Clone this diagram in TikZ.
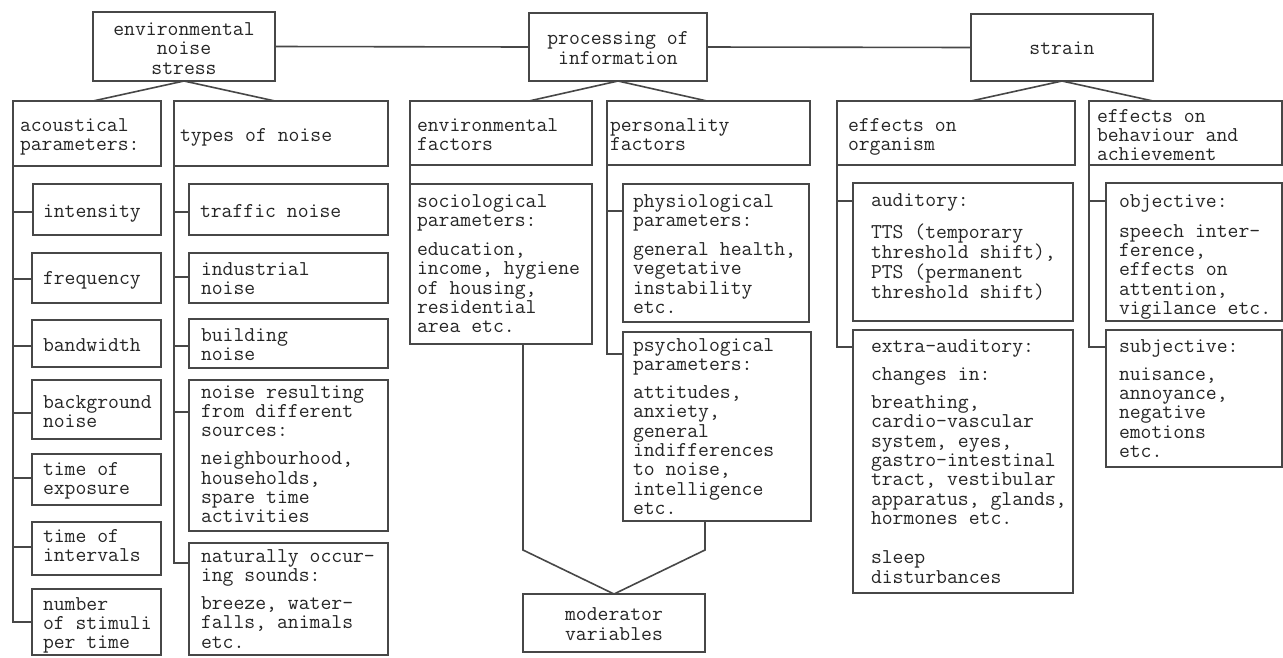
\documentclass[tikz,border=0pt]{standalone}
\usepackage{fontspec}
\usetikzlibrary{calc}
\newcommand\fsz{\ttfamily\fontsize{21.1}{19.3}\selectfont}
\tikzset{
  ln/.style={draw=black!72, line width=1.6pt},
  boxstyle/.style={ln, rectangle, inner sep=0pt, outer sep=0pt, fill=white},
  txtstyle/.style={inner sep=0pt, outer sep=0pt, anchor=north west, align=left, text=black!85, font=\fsz},
  ctxstyle/.style={inner sep=0pt, outer sep=0pt, align=center, text=black!85, font=\fsz},
}
\newcommand\mybox[5]{\node[boxstyle, anchor=north west, minimum width={(#4-#2)*1pt}, minimum height={(#5-#3)*1pt}] (#1) at (#2,#3) {};}
\newcommand\mytext[4]{\node[txtstyle] (#1t) at (#2,#3-10) {\rule{0pt}{15pt}#4};}
\newcommand\stub[3]{\draw[ln] (#1.south west) |- ($(#2.north west)+(0,#3)$);}
\begin{document}
\begin{tikzpicture}[x=1pt,y=-1pt]
\fill[white] (0,0) rectangle (1283,657);
\useasboundingbox (0,0) rectangle (1283,657);
% top row
\mybox{env}{93}{12}{275}{81}
\mybox{proc}{529}{13}{707}{81}
\mybox{strain}{971}{14}{1153}{81}
\node[ctxstyle] (envt) at ($(env.center)+(0,2)$) {environmental\\noise\\stress};
\node[ctxstyle] (proct) at ($(proc.center)+(0,1)$) {processing of\\information};
\node[ctxstyle] (straint) at ($(strain.center)+(0,1)$) {strain};
\draw[ln] (env.east) -- (proc.west);
\draw[ln] (proc.east) -- (strain.west);
% second row
\mybox{acou}{13}{101}{161}{166}
\mybox{types}{174}{101}{388}{166}
\mybox{envf}{410}{101}{592}{165}
\mybox{pers}{607}{101}{810}{165}
\mybox{org}{837}{101}{1075}{165}
\mybox{beh}{1089}{101}{1282}{165}
\mytext{acou}{20}{126}{acoustical\\parameters:}
\mytext{types}{180}{136}{types of noise}
\mytext{envf}{417}{126}{environmental\\factors}
\mytext{pers}{610}{126}{personality\\factors}
\mytext{org}{848}{126}{effects on\\organism}
\mytext{beh}{1097}{117}{effects on\\behaviour and\\achievement}
\draw[ln] (env.south) -- (env.south west |- acou.north);
\draw[ln] (env.south) -- (env.south east |- types.north);
\draw[ln] (proc.south) -- (proc.south west |- envf.north);
\draw[ln] (proc.south) -- (proc.south east |- pers.north);
\draw[ln] (strain.south) -- (strain.south west |- org.north);
\draw[ln] (strain.south) -- (strain.south east |- beh.north);
% acoustical parameters
\mybox{intens}{33}{184}{161}{235}
\mybox{freq}{32}{253}{161}{303}
\mybox{band}{32}{320}{161}{367}
\mybox{backg}{32}{380}{161}{439}
\mybox{expo}{32}{454}{161}{505}
\mybox{interv}{32}{522}{161}{575}
\mybox{numb}{32}{589}{161}{655}
\mytext{intens}{43}{212}{intensity}
\mytext{freq}{43}{279}{frequency}
\mytext{band}{43}{346}{bandwidth}
\mytext{backg}{43}{403}{background\\noise}
\mytext{expo}{43}{470}{time of\\exposure}
\mytext{interv}{43}{537}{time of\\intervals}
\mytext{numb}{43}{605}{number\\of stimuli\\per time}
\stub{acou}{intens}{28}
\stub{acou}{freq}{26}
\stub{acou}{band}{26}
\stub{acou}{backg}{33}
\stub{acou}{expo}{24}
\stub{acou}{interv}{25}
\stub{acou}{numb}{33}
% types of noise
\mybox{traffic}{189}{184}{388}{235}
\mybox{indus}{189}{253}{388}{303}
\mybox{build}{189}{319}{388}{368}
\mybox{noiseres}{189}{380}{388}{531}
\mybox{natur}{189}{543}{388}{655}
\mytext{traffic}{200}{212}{traffic noise}
\mytext{indus}{201}{270}{industrial\\noise}
\mytext{build}{201}{336}{building\\noise}
\mytext{noiseres}{201}{393}{noise resulting\\from different\\sources:\\[9pt]neighbourhood,\\households,\\spare time\\activities}
\mytext{natur}{201}{557}{naturally occur-\\ing sounds:\\[9pt]breeze, water-\\falls, animals\\etc.}
\stub{types}{traffic}{28}
\stub{types}{indus}{24}
\stub{types}{build}{27}
\stub{types}{noiseres}{32}
\stub{types}{natur}{20}
% environmental / personality factors
\mybox{socio}{410}{184}{592}{344}
\mybox{physio}{623}{184}{809}{322}
\mybox{psych}{623}{332}{811}{521}
\mybox{mod}{523}{594}{705}{652}
\mytext{socio}{417}{202}{sociological\\parameters:\\[10pt]education,\\income, hygiene\\of housing,\\residential\\area etc.}
\mytext{physio}{633}{202}{physiological\\parameters:\\[10pt]general health,\\vegetative\\instability\\etc.}
\mytext{psych}{633}{346}{psychological\\parameters:\\[9pt]attitudes,\\anxiety,\\general\\indifferences\\to noise,\\intelligence\\etc.}
\node[ctxstyle] (modt) at ($(mod.center)+(0,1)$) {moderator\\variables};
\draw[ln] (envf.south west) -- (socio.north west);
\stub{pers}{physio}{27}
\stub{pers}{psych}{22}
\coordinate (vk) at (0,550);
\draw[ln] (mod.north west |- socio.south) -- (mod.north west |- vk) -- (mod.north) -- (mod.north east |- vk) -- (mod.north east |- psych.south);
% strain side
\mybox{aud}{853}{183}{1073}{321}
\mybox{extra}{853}{330}{1073}{593}
\mybox{obj}{1106}{183}{1282}{321}
\mybox{subj}{1106}{330}{1282}{467}
\mytext{aud}{871}{201}{auditory:\\[12pt]TTS (temporary\\threshold shift),\\PTS (permanent\\threshold shift)}
\mytext{extra}{871}{347}{extra-auditory:\\[9pt]changes in:\\[9pt]breathing,\\cardio-vascular\\system, eyes,\\gastro-intestinal\\tract, vestibular\\apparatus, glands,\\hormones etc.\\[20pt]sleep\\disturbances}
\mytext{obj}{1119}{202}{objective:\\[11pt]speech inter-\\ference,\\effects on\\attention,\\vigilance etc.}
\mytext{subj}{1119}{347}{subjective:\\[9pt]nuisance,\\annoyance,\\negative\\emotions\\etc.}
\stub{org}{aud}{18}
\stub{org}{extra}{17}
\stub{beh}{obj}{18}
\stub{beh}{subj}{17}
\end{tikzpicture}
\end{document}
